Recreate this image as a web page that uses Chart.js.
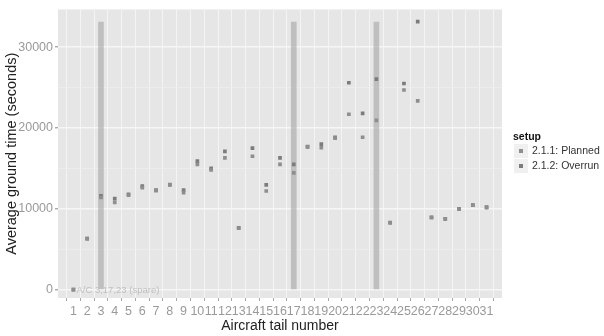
<!DOCTYPE html>
<html>
<head>
<meta charset="utf-8">
<script src="https://cdn.jsdelivr.net/npm/chart.js@4.4.1/dist/chart.umd.min.js"></script>
<style>
  html, body { margin: 0; padding: 0; background: #fff; }
  #wrap { width: 604px; height: 336px; }
</style>
</head>
<body>
<div id="wrap"><canvas id="chart" width="604" height="336"></canvas></div>
<script>
// aircraft tail numbers and average ground times (seconds)
const tails = [1, 2, 3, 4, 5, 6, 7, 8, 9, 10, 11, 12, 13, 14, 15, 16,
    17, 18, 19, 20, 21, 22, 23, 24, 25, 26, 27, 28, 29, 30, 31];
const planned = [0, 6300, 11400, 10800, 11700, 12600, 12250, 12950, 12000, 15500, 14800, 16300, 7600, 16500, 12200, 15500,
    14450, 17650, 17550, 18750, 21700, 18850, 20950, 8250, 24700, 23350, 8900, 8750, 9950, 10450, 10150];
const overrun = [0, 6300, 11600, 11250, 11800, 12800, 12300, 13000, 12300, 15900, 15000, 17100, 7650, 17500, 12950, 16300,
    15500, 17700, 18000, 18850, 25600, 21800, 26050, 8300, 25500, 33150, 8950, 8750, 10000, 10450, 10200];
// spare aircraft shown as full-height bars
const spareTails = [3, 17, 23];
const spareHeight = [33100, 33100, 33100];
const spareNote = 'A/C 3,17,23 (spare)';
const yTicks = [0, 5000, 10000, 15000, 20000, 25000, 30000];

const FONT = '"Liberation Sans", Arial, sans-serif';

const panelPlugin = {
    id: 'panel',
    beforeDraw(chart) {
        const { ctx, chartArea: a } = chart;
        ctx.save();
        ctx.fillStyle = '#e6e6e6';
        ctx.fillRect(a.left, a.top, a.right - a.left, a.bottom - a.top);
        ctx.restore();
    },
    afterDatasetsDraw(chart) {
        const { ctx, scales } = chart;
        ctx.save();
        ctx.font = '9.5px ' + FONT;
        ctx.fillStyle = '#c0c0c0';
        ctx.textBaseline = 'middle';
        ctx.fillText(spareNote, scales.x.getPixelForValue(1) + 3, scales.y.getPixelForValue(0) + 1);
        ctx.restore();
    },
    afterDraw(chart) {
        // legend drawn by hand, ggplot style
        const { ctx } = chart;
        const names = ['2.1.1: Planned', '2.1.2: Overrun'];
        const colors = ['#8e8e8e', '#7c7c7c'];
        ctx.save();
        ctx.fillStyle = '#111';
        ctx.font = 'bold 10.5px ' + FONT;
        ctx.textBaseline = 'middle';
        ctx.fillText('setup', 513, 137);
        ctx.font = '10.5px ' + FONT;
        names.forEach((n, i) => {
            const y = 151 + i * 15;
            ctx.fillStyle = '#f0f0f0';
            ctx.fillRect(514, y - 7, 14, 14);
            ctx.fillStyle = colors[i];
            ctx.fillRect(519, y - 2, 4, 4);
            ctx.fillStyle = '#333';
            ctx.fillText(n, 532, y + 0.5);
        });
        ctx.restore();
    }
};

new Chart(document.getElementById('chart'), {
    data: {
        datasets: [
            {
                type: 'bar',
                label: 'spare',
                data: spareTails.map((t, i) => ({ x: t, y: [0, spareHeight[i]] })),
                backgroundColor: 'rgba(165, 165, 165, 0.6)',
                borderWidth: 0,
                barThickness: 5,
                order: 2
            },
            {
                type: 'scatter',
                label: '2.1.1: Planned',
                data: tails.map((t, i) => ({ x: t, y: planned[i] })),
                pointStyle: 'rect',
                pointRadius: 2.6,
                backgroundColor: '#8e8e8e',
                borderWidth: 0,
                order: 1
            },
            {
                type: 'scatter',
                label: '2.1.2: Overrun',
                data: tails.map((t, i) => ({ x: t, y: overrun[i] })),
                pointStyle: 'rect',
                pointRadius: 2.6,
                backgroundColor: '#7c7c7c',
                borderWidth: 0,
                order: 1
            }
        ]
    },
    options: {
        responsive: false,
        animation: false,
        layout: { padding: { top: 7, right: 102, left: 0, bottom: 0 } },
        plugins: {
            legend: { display: false },
            tooltip: { enabled: false }
        },
        scales: {
            x: {
                type: 'linear',
                min: 0.4,
                max: 31.6,
                afterBuildTicks: s => { s.ticks = tails.map(v => ({ value: v })); },
                afterFit: s => { s.height = 38; },
                ticks: {
                    autoSkip: false,
                    maxRotation: 0,
                    padding: 3,
                    color: '#9a9a9a',
                    font: { family: FONT, size: 12.5 },
                    callback: v => String(v)
                },
                grid: { color: '#f4f4f4', lineWidth: 1, tickLength: 3, tickColor: '#a8a8a8' },
                border: { display: false },
                title: {
                    display: true,
                    text: 'Aircraft tail number',
                    color: '#222',
                    padding: { top: 0, bottom: 1 },
                    font: { family: FONT, size: 14 }
                }
            },
            y: {
                type: 'linear',
                min: -1040,
                max: 34660,
                afterBuildTicks: s => { s.ticks = yTicks.map(v => ({ value: v })); },
                afterFit: s => { s.width = 58; },
                ticks: {
                    padding: 2,
                    color: '#9a9a9a',
                    font: { family: FONT, size: 12.5 },
                    callback: v => (v % 10000 === 0 ? String(v) : '')
                },
                grid: {
                    color: c => (c.tick && c.tick.value % 10000 === 0 ? '#f6f6f6' : '#eeeeee'),
                    lineWidth: c => (c.tick && c.tick.value % 10000 === 0 ? 1.4 : 0.8),
                    tickLength: 3,
                    tickColor: c => (c.tick && c.tick.value % 10000 === 0 ? '#a8a8a8' : 'rgba(0,0,0,0)')
                },
                border: { display: false },
                title: {
                    display: true,
                    text: 'Average ground time (seconds)',
                    color: '#222',
                    padding: { top: 3, bottom: 0 },
                    font: { family: FONT, size: 14.5 }
                }
            }
        }
    },
    plugins: [panelPlugin]
});
</script>
</body>
</html>
